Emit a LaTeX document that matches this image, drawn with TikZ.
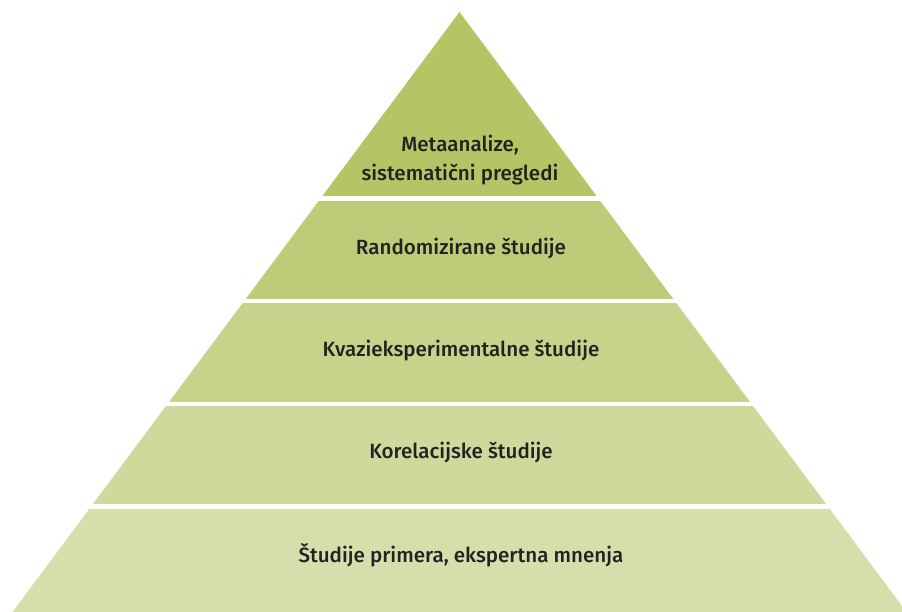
\documentclass[tikz,border=0pt]{standalone}
\usepackage{fontspec}
\setmainfont{Fira Sans}[UprightFont=* Medium]
\usepackage{xcolor}
\usepackage{tikz}
\usetikzlibrary{positioning, calc}

\definecolor{tierA}{HTML}{B3C565}
\definecolor{tierB}{HTML}{BDCC78}
\definecolor{tierC}{HTML}{C6D38B}
\definecolor{tierD}{HTML}{CED99C}
\definecolor{tierE}{HTML}{D6DFAC}
\definecolor{inkdark}{HTML}{222222}

\begin{document}
\begin{tikzpicture}[
        x=1pt, y=-1pt,
        % Define text labels of the tiers
        tierlabel/.style={
            font=\fontsize{20.6}{28.5}\selectfont,
            text=inkdark,
            align=center,
            inner sep=0pt
        }
    ]
    \useasboundingbox (0,0) rectangle (902,612);

    % ==========================================
    % PYRAMID BODY (clipped to the triangle)
    % ==========================================
    \begin{scope}
        \clip (459.5,12) -- (906.5,612) -- (12.5,612) -- cycle;

        % Top tier
        \fill[tierA] (0,0) rectangle (902,196.5);
        % Second tier
        \fill[tierB] (0,201) rectangle (902,299);
        % Third tier
        \fill[tierC] (0,303.5) rectangle (902,401.5);
        % Fourth tier
        \fill[tierD] (0,406) rectangle (902,504);
        % Bottom tier
        \fill[tierE] (0,508.5) rectangle (902,612);
    \end{scope}

    % ==========================================
    % LABELS
    % ==========================================
    \node[tierlabel] (metaanalize) at (460,160) {Metaanalize,\\sistematični pregledi};
    \node[tierlabel] (randomizirane) at (461,248) {Randomizirane študije};
    \node[tierlabel] (kvazi) at (461,351) {Kvazieksperimentalne študije};
    \node[tierlabel] (korelacijske) at (461,452) {Korelacijske študije};
    \node[tierlabel] (primeri) at (461,555) {Študije primera, ekspertna mnenja};

\end{tikzpicture}
\end{document}
